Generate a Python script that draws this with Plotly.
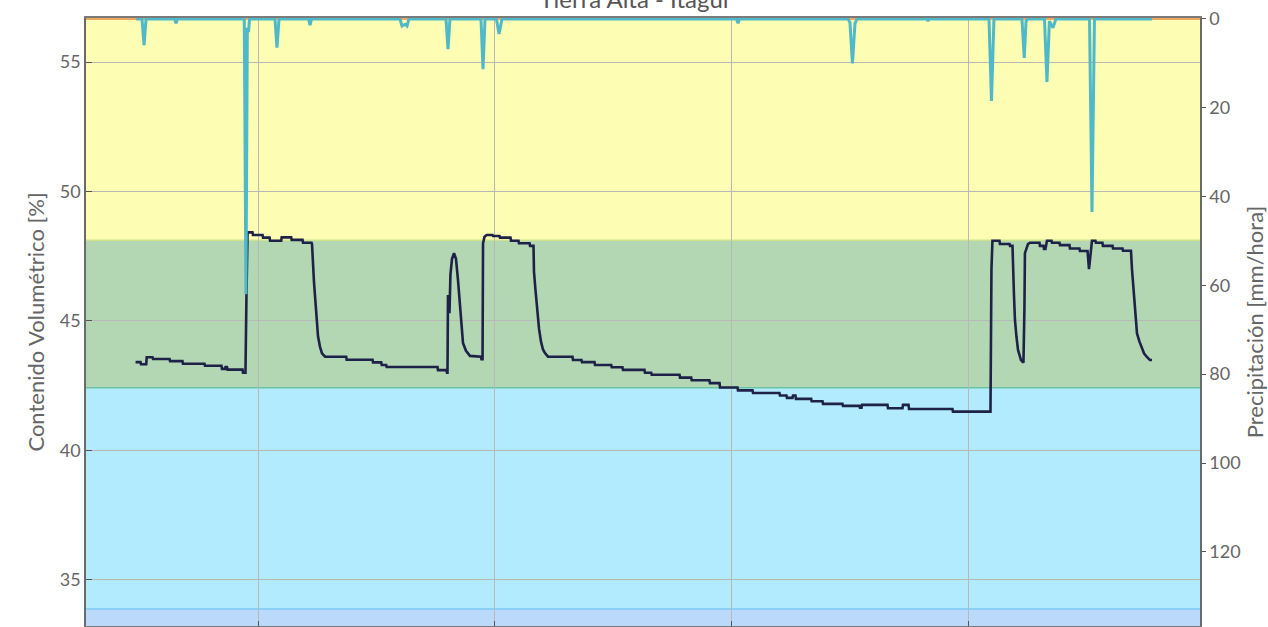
import pandas as pd
import plotly.graph_objects as go

# ---------------- data ----------------
base_time = pd.Timestamp("2023-05-02 00:00")

# soil moisture: (hours from base, % volumetric)
hum_hours = [-12.40, -11.90, -11.85, -11.32, -11.27, -10.68, -10.63, -8.96, -8.91, -7.65,
             -7.60, -5.42, -5.37, -3.70, -3.65, -3.34, -3.29, -3.14, -3.09, -1.57,
             -1.52, -1.27, -1.17, -1.06, -0.56, -0.51, 0.46, 0.51, 1.17, 1.22,
             2.35, 2.40, 3.36, 3.41, 4.51, 4.56, 5.42, 5.47, 5.67, 5.94,
             6.08, 6.28, 6.48, 6.79, 8.93, 8.98, 11.60, 11.65, 12.48, 12.53,
             12.98, 13.03, 18.18, 18.23, 19.09, 19.14, 19.19, 19.24, 19.39, 19.49,
             19.65, 19.85, 20.05, 20.25, 20.46, 20.61, 20.76, 21.06, 21.47, 22.58,
             22.63, 22.74, 22.79, 22.94, 23.16, 23.75, 23.80, 24.46, 24.51, 25.57,
             25.62, 26.38, 26.43, 27.50, 27.55, 27.90, 27.95, 28.10, 28.25, 28.46,
             28.66, 28.86, 29.06, 29.37, 31.85, 31.90, 32.76, 32.81, 34.08, 34.13,
             35.77, 35.82, 36.91, 36.96, 39.14, 39.19, 39.82, 39.87, 42.69, 42.74,
             43.87, 43.92, 45.72, 45.77, 46.74, 46.79, 48.56, 48.61, 50.08, 50.13,
             52.81, 52.86, 53.52, 53.57, 54.13, 54.18, 54.43, 54.48, 56.02, 56.07,
             57.17, 57.22, 59.19, 59.24, 60.91, 60.96, 61.12, 61.17, 63.75, 63.80,
             65.27, 65.32, 65.88, 65.93, 70.33, 70.38, 74.18, 74.23, 74.28, 74.38,
             75.09, 75.14, 76.11, 76.16, 76.41, 76.56, 76.66, 76.81, 76.97, 77.27,
             77.47, 77.52, 77.62, 77.67, 77.98, 78.18, 79.14, 79.19, 79.55, 79.60,
             79.75, 79.90, 80.36, 80.41, 81.17, 81.22, 82.18, 82.23, 83.19, 83.24,
             84.01, 84.16, 84.46, 84.81, 84.86, 85.52, 85.57, 86.54, 86.59, 87.55,
             87.60, 88.41, 88.51, 88.66, 88.81, 89.02, 89.27, 89.49, 89.73, 90.00,
             90.33, 90.54]
hum_values = [43.41, 43.41, 43.33, 43.33, 43.60, 43.60, 43.53, 43.53, 43.45, 43.45,
              43.35, 43.35, 43.27, 43.27, 43.15, 43.15, 43.22, 43.22, 43.12, 43.12,
              43.00, 43.00, 45.94, 48.42, 48.42, 48.32, 48.32, 48.22, 48.22, 48.10,
              48.10, 48.23, 48.23, 48.13, 48.13, 48.02, 48.02, 47.97, 46.50, 45.04,
              44.40, 44.00, 43.75, 43.62, 43.62, 43.50, 43.50, 43.40, 43.40, 43.30,
              43.30, 43.22, 43.22, 43.10, 43.10, 43.00, 43.00, 46.00, 45.30, 46.80,
              47.40, 47.62, 47.40, 46.60, 45.70, 44.90, 44.15, 43.85, 43.65, 43.62,
              43.52, 43.52, 48.00, 48.25, 48.32, 48.32, 48.28, 48.28, 48.22, 48.22,
              48.10, 48.10, 48.00, 48.00, 47.90, 47.90, 46.90, 46.20, 45.50, 44.70,
              44.20, 43.90, 43.76, 43.62, 43.62, 43.49, 43.49, 43.41, 43.41, 43.30,
              43.30, 43.21, 43.21, 43.11, 43.11, 43.00, 43.00, 42.92, 42.92, 42.81,
              42.81, 42.71, 42.71, 42.60, 42.60, 42.43, 42.43, 42.32, 42.32, 42.22,
              42.22, 42.12, 42.12, 42.03, 42.03, 42.12, 42.12, 41.99, 41.99, 41.90,
              41.90, 41.80, 41.80, 41.72, 41.72, 41.65, 41.65, 41.76, 41.76, 41.63,
              41.63, 41.76, 41.76, 41.60, 41.60, 41.50, 41.50, 44.50, 47.00, 48.10,
              48.10, 47.97, 47.97, 47.90, 47.90, 46.00, 45.04, 44.40, 43.88, 43.49,
              43.39, 43.39, 45.50, 47.62, 47.97, 48.02, 48.02, 47.90, 47.90, 47.78,
              47.78, 48.10, 48.10, 48.02, 48.02, 47.93, 47.93, 47.80, 47.80, 47.70,
              47.70, 47.00, 48.10, 48.10, 48.02, 48.02, 47.90, 47.90, 47.80, 47.80,
              47.71, 47.71, 47.00, 46.30, 45.68, 44.52, 44.20, 43.94, 43.75, 43.62,
              43.49, 43.49]

# precipitation: (hours from base, mm/hora)
pp_hours = [-12.35, -11.75, -11.54, -11.34, -8.46, -8.30, -8.15, -1.39, -1.22, -1.08,
            -0.96, -0.86, 1.72, 1.92, 2.13, 5.11, 5.27, 5.42, 14.38, 14.58,
            14.89, 15.09, 15.29, 19.04, 19.24, 19.44, 22.58, 22.79, 22.99, 24.15,
            24.41, 24.71, 48.46, 48.61, 48.76, 59.75, 59.95, 60.20, 60.46, 60.66,
            67.75, 67.85, 67.95, 74.03, 74.28, 74.53, 77.37, 77.60, 77.78, 77.98,
            79.65, 79.90, 80.15, 80.51, 80.81, 84.21, 84.46, 84.71, 90.54]
pp_values = [0, 0, 5.9, 0, 0, 1.0, 0, 0, 62.0, 2.0,
             3.0, 0, 0, 6.5, 0, 0, 1.4, 0, 0, 1.6,
             1.2, 1.6, 0, 0, 6.8, 0, 0, 11.3, 0, 0,
             3.4, 0, 0, 1.0, 0, 0, 0.8, 10.0, 1.0, 0,
             0, 0.5, 0, 0, 18.5, 0, 0, 8.8, 0.5, 0,
             0, 14.2, 0.5, 2.0, 0, 0, 43.5, 0, 0]

# zero reference line over the whole window
ref_hours = [-17.42, 95.40]
ref_values = [0, 0]

# moisture band thresholds (%)
band_edges = [33.22, 33.88, 42.42, 48.12, 56.70]
band_colors = ["#bad9fb", "#b2eafe", "#b3d7b3", "#fdfdb4"]
edge_line_colors = ["#7cc8f5", "#6cc3a4", "#cfe38c"]

hum_x = [base_time + pd.Timedelta(hours=h) for h in hum_hours]
pp_x = [base_time + pd.Timedelta(hours=h) for h in pp_hours]
ref_x = [base_time + pd.Timedelta(hours=h) for h in ref_hours]

FONT = "Lato, 'Open Sans', sans-serif"

fig = go.Figure()

fig.add_trace(go.Scatter(x=hum_x, y=hum_values, mode="lines", line=dict(color="#1e2148", width=2.6),
                         yaxis="y", showlegend=False, name="Contenido Volumétrico"))
fig.add_trace(go.Scatter(x=ref_x, y=ref_values, mode="lines", line=dict(color="#f0a860", width=2),
                         yaxis="y2", showlegend=False, name="ref"))
fig.add_trace(go.Scatter(x=pp_x, y=pp_values, mode="lines", line=dict(color="#4fb9c9", width=3),
                         yaxis="y2", showlegend=False, name="Precipitación"))

shapes = []
for i, c in enumerate(band_colors):
    shapes.append(dict(type="rect", xref="paper", yref="y", x0=0, x1=1,
                       y0=band_edges[i], y1=band_edges[i + 1], fillcolor=c,
                       line=dict(width=0), layer="below"))
for i, c in enumerate(edge_line_colors):
    shapes.append(dict(type="line", xref="paper", yref="y", x0=0, x1=1,
                       y0=band_edges[i + 1], y1=band_edges[i + 1],
                       line=dict(color=c, width=1.5), layer="below"))

fig.update_layout(
    width=1268, height=627,
    margin=dict(l=86, r=68, t=18, b=1),
    paper_bgcolor="white", plot_bgcolor="white",
    font=dict(family=FONT, color="#666666", size=18),
    title=dict(text="Tierra Alta - Itagüí", x=0.5, xref="container", xanchor="center",
               y=1.0, yref="container", yanchor="middle",
               font=dict(family=FONT, size=24, color="#555555")),
    shapes=shapes,
    xaxis=dict(type="date", range=[ref_x[0], ref_x[1]], tick0=base_time, dtick=86400000,
               showticklabels=False, showgrid=True, gridcolor="#b8b8b8", gridwidth=1,
               ticks="inside", ticklen=5, tickcolor="#555555",
               showline=True, linecolor="#7a7a7a", linewidth=2, mirror=True, zeroline=False),
    yaxis=dict(range=[33.22, 56.70], tickvals=[35, 40, 45, 50, 55], showgrid=True,
               gridcolor="#b8b8b8", gridwidth=1, ticks="inside", ticklen=6, tickcolor="#555555",
               showline=True, linecolor="#6a6a6a", linewidth=1.5, zeroline=False,
               title=dict(text="Contenido Volumétrico [%]", font=dict(size=22, color="#666666"), standoff=9),
               tickfont=dict(size=18, color="#666666")),
    yaxis2=dict(range=[136.7, -0.2], overlaying="y", side="right", tickvals=[0, 20, 40, 60, 80, 100, 120],
                showgrid=False, ticks="outside", ticklen=4, tickcolor="#555555",
                showline=True, linecolor="#6a6a6a", linewidth=1.5, zeroline=False,
                title=dict(text="Precipitación [mm/hora]", font=dict(size=22, color="#666666"), standoff=10),
                tickfont=dict(size=18, color="#666666")),
)

fig.write_html("out.html", config={"displayModeBar": False},
               post_script="document.body.style.margin='0';")
